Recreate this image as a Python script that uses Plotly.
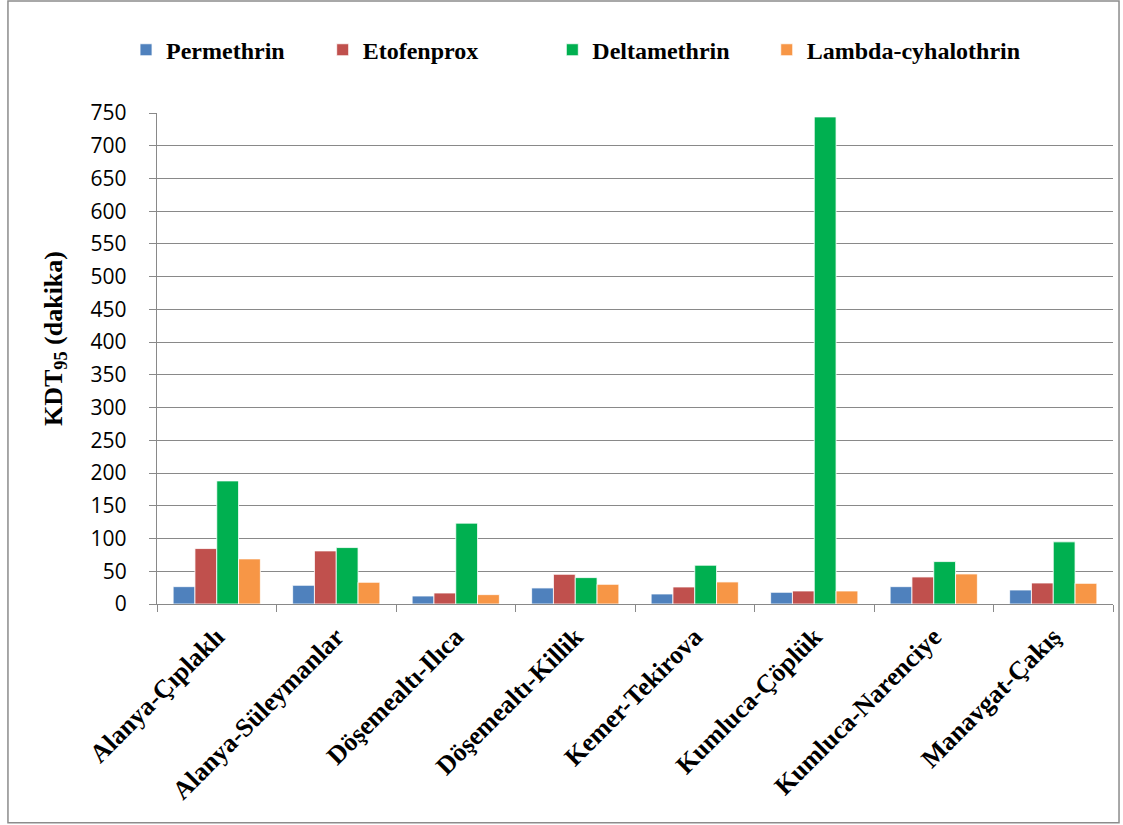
import plotly.graph_objects as go

# KDT95 knockdown times (minutes) per site and insecticide
sites = [
    "Alanya-Çıplaklı",
    "Alanya-Süleymanlar",
    "Döşemealtı-Ilıca",
    "Döşemealtı-Killik",
    "Kemer-Tekirova",
    "Kumluca-Çöplük",
    "Kumluca-Narenciye",
    "Manavgat-Çakış",
]
permethrin = [26.5, 28.6, 12.2, 24.5, 15.3, 17.9, 26.5, 21.4]
etofenprox = [84.7, 81.1, 16.8, 45.4, 26.0, 19.9, 41.3, 32.1]
deltamethrin = [188.0, 86.2, 123.5, 40.3, 59.2, 744.0, 64.8, 94.9]
lambda_cyhalothrin = [68.9, 33.2, 14.3, 30.1, 33.7, 19.9, 45.9, 31.6]

series = [
    ("Permethrin", permethrin, "#4F81BD", "legend", -0.0324),
    ("Etofenprox", etofenprox, "#C0504D", "legend2", 0.1733),
    ("Deltamethrin", deltamethrin, "#00B050", "legend3", 0.4135),
    ("Lambda-cyhalothrin", lambda_cyhalothrin, "#F79646", "legend4", 0.6378),
]

serif = "Liberation Serif, Times New Roman, serif"
sans = "Open Sans, Lato, sans-serif"
grid_col = "#898989"

fig = go.Figure()
for name, vals, col, leg, _ in series:
    fig.add_trace(go.Bar(
        name=name, x=sites, y=vals,
        marker=dict(color=col, line=dict(color="white", width=0.8)),
        legend=leg,
    ))

legend_style = dict(
    orientation="h", yanchor="middle", y=1.128, xanchor="left",
    font=dict(family=serif, size=24, color="black", weight="bold"),
    bgcolor="rgba(0,0,0,0)", borderwidth=0,
)
layout_legends = {}
for _, _, _, leg, lx in series:
    layout_legends[leg] = dict(legend_style, x=lx)

fig.update_layout(
    width=1123, height=825,
    margin=dict(l=157, r=10, t=113, b=221),
    paper_bgcolor="white", plot_bgcolor="white",
    barmode="group", bargap=0.27, bargroupgap=0.0,
    showlegend=True,
    **layout_legends,
)

fig.update_yaxes(
    range=[0, 750], dtick=50, tick0=0,
    showgrid=True, gridcolor=grid_col, gridwidth=1.3,
    showline=True, linecolor=grid_col, linewidth=1.3,
    ticks="outside", ticklen=7, tickcolor=grid_col, tickwidth=1.3,
    tickfont=dict(family=sans, size=21, color="black"),
    ticklabelstandoff=18,
    zeroline=False,
)

fig.update_xaxes(
    showline=True, linecolor=grid_col, linewidth=1.3,
    ticks="outside", ticklen=7, tickcolor=grid_col, tickwidth=1.3,
    tickson="boundaries",
    tickangle=-45,
    tickfont=dict(family=serif, size=26, color="black", weight="bold"),
    ticklabelstandoff=6,
    showgrid=False,
)

# Y-axis title
fig.add_annotation(
    text="<b>KDT<sub>95</sub> (dakika)</b>",
    xref="paper", yref="paper", x=-0.1067, y=0.5418,
    xanchor="center", yanchor="middle", textangle=-90, showarrow=False,
    font=dict(family=serif, size=26, color="black"),
)

# Chart-area frame
fig.add_shape(
    type="rect", xref="paper", yref="paper",
    x0=-0.1559, x1=1.0063, y0=-0.4454, y1=1.228,
    line=dict(color="#8c8c8c", width=1.5), fillcolor="rgba(0,0,0,0)",
    layer="below",
)

fig.write_html("out.html")
